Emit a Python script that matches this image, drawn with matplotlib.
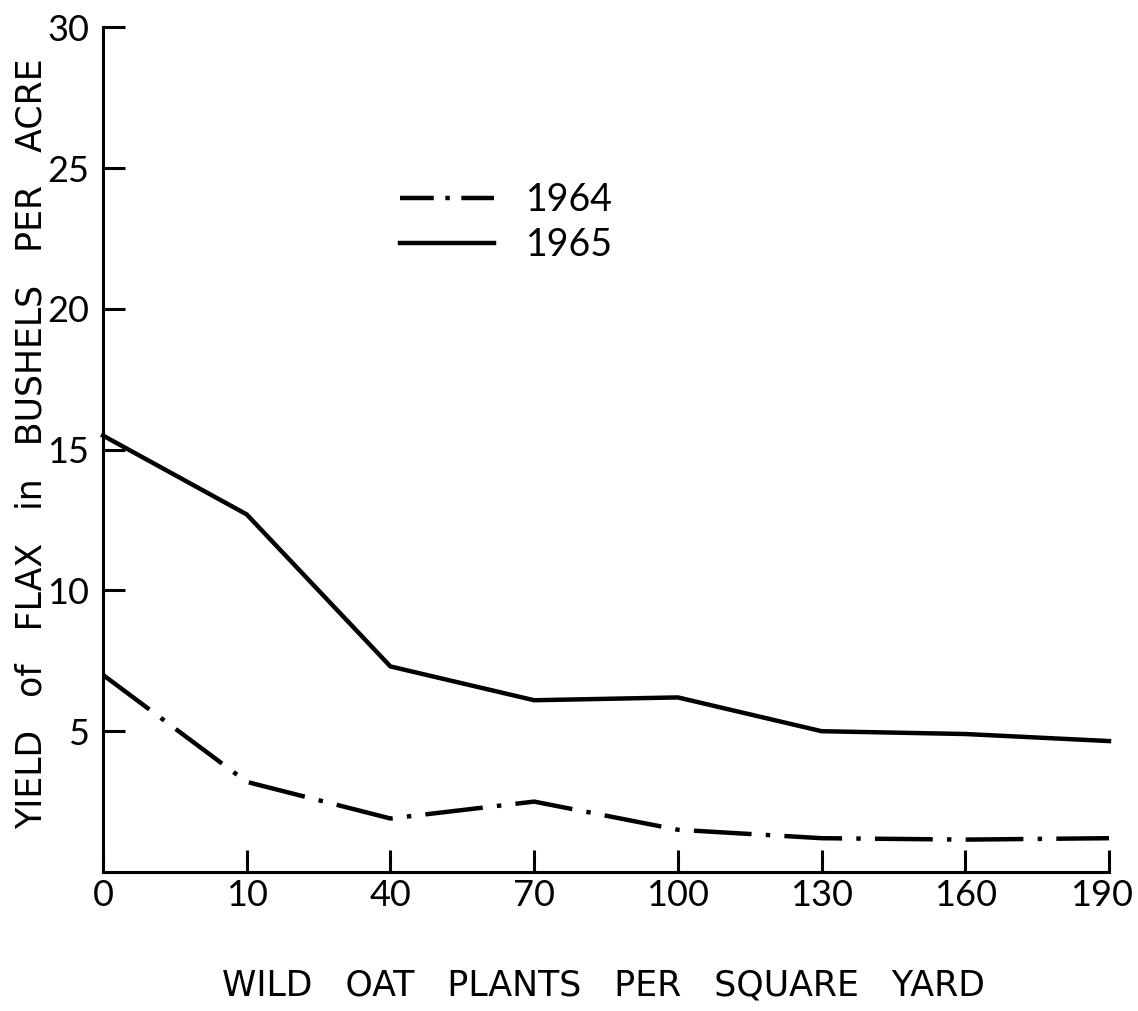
#!/usr/bin/env python3
"""Flax yield against wild oat density, 1964 and 1965."""

import numpy as np
import matplotlib
matplotlib.use('Agg')
import matplotlib.pyplot as plt
from matplotlib.lines import Line2D
from matplotlib.transforms import ScaledTranslation

plt.rcParams['font.family'] = ['Lato', 'DejaVu Sans']

# wild oat plants per square yard (evenly spaced categories on the chart)
oat_density = ['0', '10', '40', '70', '100', '130', '160', '190']
# yield of flax, bushels per acre
yield_1964 = [7.0, 3.2, 1.9, 2.5, 1.5, 1.2, 1.15, 1.2]
yield_1965 = [15.5, 12.7, 7.3, 6.1, 6.2, 5.0, 4.9, 4.65]
y_ticks = [5, 10, 15, 20, 25, 30]

fig = plt.figure(figsize=(11.38, 10.11), dpi=100)
ax = fig.add_axes([0.0905, 0.1375, 0.884, 0.8355])

pos = np.arange(len(oat_density))
ax.plot(pos, yield_1964, color='k', lw=3.2, linestyle=(0, (13, 3.2, 1.0, 3.2)), clip_on=False)
ax.plot(pos, yield_1965, color='k', lw=3.2, clip_on=False)

ax.set_xlim(0, len(oat_density) - 1)
ax.set_ylim(0, 30)
ax.set_xticks(pos)
ax.set_xticklabels(oat_density)
ax.set_yticks(y_ticks)

for side in ['top', 'right']:
    ax.spines[side].set_visible(False)
for side in ['left', 'bottom']:
    ax.spines[side].set_linewidth(2.2)

ax.tick_params(axis='both', direction='in', length=16, width=2.2, labelsize=26)
ax.tick_params(axis='y', pad=10)
ax.tick_params(axis='x', pad=5)

# last label sits a little left of its tick so it stays inside the page
last = ax.get_xticklabels()[-1]
last.set_transform(last.get_transform() + ScaledTranslation(-0.07, 0, fig.dpi_scale_trans))

# axis titles placed where the original lettering sits
fig.text(32 / 1138, 1 - 444 / 1011, 'YIELD   of   FLAX   in   BUSHELS   PER   ACRE',
         rotation=90, ha='center', va='center', fontsize=25, family='DejaVu Sans')
fig.text(603 / 1138, 1 - 985 / 1011, 'WILD   OAT   PLANTS   PER   SQUARE   YARD',
         ha='center', va='center', fontsize=25, family='DejaVu Sans')

# legend key drawn as dash - dot - dash like the original
handles = [Line2D([], [], color='k', lw=3.2, linestyle=(0, (7.6, 2.6, 1.0, 2.6))),
           Line2D([], [], color='k', lw=3.2)]
ax.legend(handles, ['1964', '1965'], loc='upper left', bbox_to_anchor=(0.262, 0.857),
          frameon=False, fontsize=27, handlelength=2.5, handletextpad=0.85, labelspacing=0.25)

plt.savefig('out.png', dpi=100)
